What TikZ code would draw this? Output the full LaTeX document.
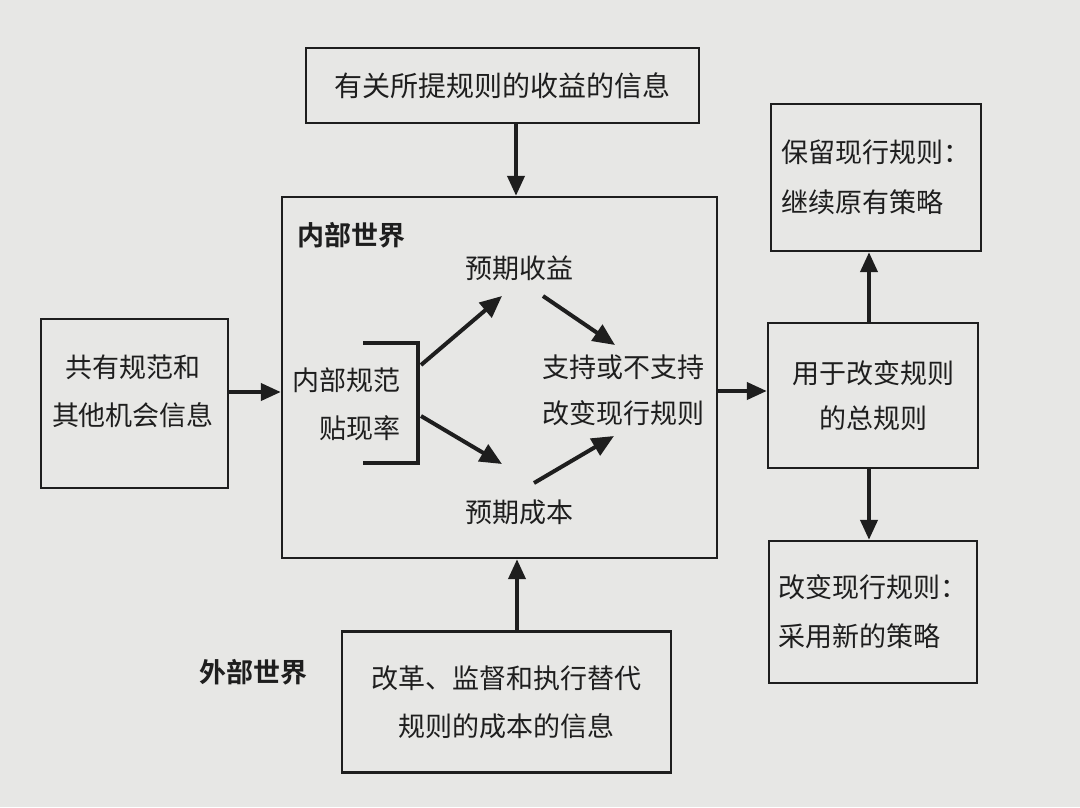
\documentclass[tikz,border=0pt]{standalone}
\usepackage{fontspec}
\setmainfont{Noto Sans CJK SC}[BoldFont={Noto Sans CJK SC Bold}]
\usetikzlibrary{arrows.meta}
\definecolor{ink}{HTML}{1E1E1E}
\definecolor{paper}{HTML}{E7E7E5}
\begin{document}
\begin{tikzpicture}[x=1pt,y=-1pt,
  txt/.style={text=ink,inner sep=0pt,align=center,font=\fontsize{27}{48}\selectfont},
  box/.style={txt,draw=ink,line width=2.4pt},
  conn/.style={draw=ink,line width=4pt,-{Triangle[length=20pt,width=17pt]}},
  innerconn/.style={draw=ink,line width=4pt,-{Triangle[length=22pt,width=19pt]}},
  worldlabel/.style={text=ink,inner sep=0pt,font=\fontsize{27}{32}\selectfont\bfseries}]
\fill[paper] (0,0) rectangle (1080,807);
\useasboundingbox (0,0) rectangle (1080,807);

% boxes
\node[box,minimum width=393pt,minimum height=75pt,font=\fontsize{28}{48}\selectfont] (info) at (502.5,85.5) {有关所提规则的收益的信息};
\node[box,minimum width=435pt,minimum height=361pt] (inner) at (499.5,377.5) {};
\node[box,minimum width=187pt,minimum height=169pt] (shared) at (134.5,403.5) {};
\node[txt] (sharedtxt) at (133,391) {共有规范和\\其他机会信息};
\node[box,minimum width=210pt,minimum height=147pt,align=left,font=\fontsize{27}{50}\selectfont] (keep) at (876,177.5) {保留现行规则：\\继续原有策略};
\node[box,minimum width=210pt,minimum height=145pt,font=\fontsize{27}{45}\selectfont] (meta) at (873,395.5) {用于改变规则\\的总规则};
\node[box,minimum width=208pt,minimum height=142pt,align=left,font=\fontsize{27}{49}\selectfont] (change) at (873,612) {改变现行规则：\\采用新的策略};
\node[box,minimum width=329pt,minimum height=141pt] (cost) at (506.5,702) {改革、监督和执行替代\\规则的成本的信息};

% labels
\node[worldlabel] (inworld) at (351,235) {内部世界};
\node[worldlabel] (outworld) at (253,672) {外部世界};

% inside the inner world
\node[txt] (benefit) at (519,268) {预期收益};
\node[txt] (costexp) at (519,512) {预期成本};
\node[txt,font=\fontsize{27}{46}\selectfont] (support) at (623,390) {支持或不支持\\改变现行规则};
\node[txt,align=right,anchor=east] (norms) at (401,404) {内部规范\\贴现率};

% bracket
\draw[ink,line width=4.5pt] (363,343) -- (418,343) -- (418,463) -- (363,463);

% internal arrow end points
\coordinate (b1s) at (421,365);
\coordinate (b1e) at (502,296);
\coordinate (b2s) at (421,416);
\coordinate (b2e) at (502,464);
\coordinate (b3s) at (543,296);
\coordinate (b3e) at (615,345);
\coordinate (b4s) at (534,483);
\coordinate (b4e) at (614,436);
\draw[innerconn] (b1s) -- (b1e);
\draw[innerconn] (b2s) -- (b2e);
\draw[innerconn] (b3s) -- (b3e);
\draw[innerconn] (b4s) -- (b4e);

% connectors between boxes
\coordinate (xa) at (516,0);
\coordinate (xb) at (517,0);
\coordinate (xc) at (869,0);
\coordinate (ya) at (0,392);
\coordinate (yb) at (0,391);
\draw[conn] (info.south -| xa) -- (inner.north -| xa);
\draw[conn] (shared.east |- ya) -- (inner.west |- ya);
\draw[conn] (inner.east |- yb) -- (meta.west |- yb);
\draw[conn] (meta.north -| xc) -- (keep.south -| xc);
\draw[conn] (meta.south -| xc) -- (change.north -| xc);
\draw[conn] (cost.north -| xb) -- (inner.south -| xb);
\end{tikzpicture}
\end{document}
